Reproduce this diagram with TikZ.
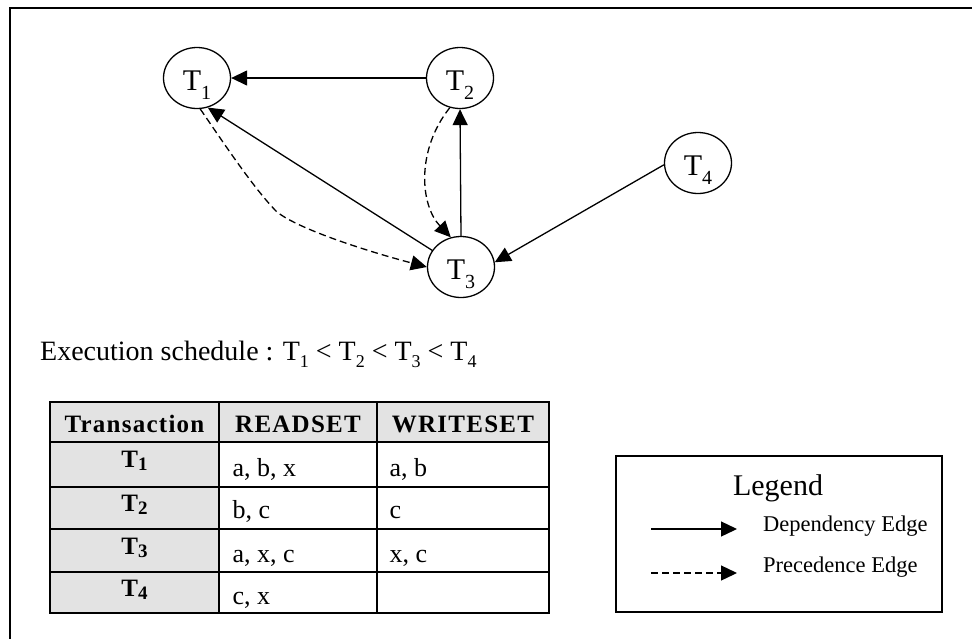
\documentclass[tikz,border=0pt]{standalone}
\usepackage{fontspec}
\setmainfont{Liberation Serif}
\usetikzlibrary{shapes.geometric,arrows.meta}
\definecolor{cellgray}{HTML}{E3E3E3}
\newcommand\Tsub[3]{T\raisebox{-#3}{\fontsize{#2}{#2}\selectfont #1}}
\begin{document}
\begin{tikzpicture}[x=1pt,y=-1pt,
  tnode/.style={ellipse,draw,line width=1.3pt,minimum width=67pt,minimum height=61pt,
    inner sep=0pt,text height=24pt,text depth=0pt,font=\fontsize{30}{32}\selectfont},
  dep/.style={line width=1.3pt,-{Triangle[length=16pt,width=15pt]}},
  prec/.style={dep,dash pattern=on 7pt off 4pt},
  hdr/.style={anchor=base,font=\fontsize{25}{27}\selectfont\bfseries\addfontfeature{LetterSpace=5}},
  rowlab/.style={anchor=base,font=\fontsize{25}{27}\selectfont\bfseries},
  cell/.style={anchor=base west,font=\fontsize{26}{28}\selectfont},
  grid/.style={line width=1.8pt}]
\useasboundingbox (0,0) rectangle (972,638);
% outer frame
\draw[line width=2.2pt] (10,640) -- (10,7.7) -- (974,7.7);

% graph nodes
\node[tnode] (t1) at (197,78) {\Tsub{1}{20pt}{0.3em}};
\node[tnode] (t2) at (460,78) {\Tsub{2}{20pt}{0.3em}};
\node[tnode] (t3) at (461,267) {\Tsub{3}{20pt}{0.3em}};
\node[tnode] (t4) at (698,163) {\Tsub{4}{20pt}{0.3em}};

% dependency edges
\draw[dep] (t2.west) -- (t1.east);
\draw[dep] (t3.150) -- (t1.-70);
\draw[dep] (t3.north) -- (t2.south);
\draw[dep] (t4.183) -- (t3.8);

% precedence edges
\coordinate (bend) at (277,212);
\draw[prec] (t1.-84) .. controls (225,145) and (255,190) .. (bend)
  .. controls (300,230) and (370,252) .. (t3.west);
\draw[prec] (t2.-109) .. controls (416,150) and (420,205) .. (t3.109);

% schedule
\node[anchor=base west,inner sep=0pt,font=\fontsize{28}{30}\selectfont] (sched) at (40,360)
  {Execution schedule : \Tsub{1}{18pt}{0.25em} < \Tsub{2}{18pt}{0.25em} < \Tsub{3}{18pt}{0.25em} < \Tsub{4}{18pt}{0.25em}};

% table
\fill[cellgray] (50,402) rectangle (549,442);
\fill[cellgray] (50,442) rectangle (219,613);
\draw[grid] (50,402) rectangle (549,613);
\draw[grid] (219,402) -- (219,613);
\draw[grid] (377,402) -- (377,613);
\foreach \yy in {442,487,529,572} \draw[grid] (50,\yy) -- (549,\yy);

\node[hdr] (h1) at (134.5,432) {Transaction};
\node[hdr] (h2) at (298,432) {READSET};
\node[hdr] (h3) at (463,432) {WRITESET};

\node[rowlab] (r1) at (134.5,467) {\Tsub{1}{19pt}{0.12em}};
\node[rowlab] (r2) at (134.5,511) {\Tsub{2}{19pt}{0.12em}};
\node[rowlab] (r3) at (134.5,554) {\Tsub{3}{19pt}{0.12em}};
\node[rowlab] (r4) at (134.5,596) {\Tsub{4}{19pt}{0.12em}};

\node[cell] (c12) at (229,476) {a, b, x};
\node[cell] (c13) at (386,476) {a, b};
\node[cell] (c22) at (229,518) {b, c};
\node[cell] (c23) at (386,518) {c};
\node[cell] (c32) at (229,562) {a, x, c};
\node[cell] (c33) at (386,562) {x, c};
\node[cell] (c42) at (229,604) {c, x};

% legend
\draw[line width=1.5pt] (616,456) rectangle (942,612);
\node[anchor=base,font=\fontsize{30}{32}\selectfont] (leg) at (778,495) {Legend};
\coordinate (l1a) at (651,529);
\coordinate (l1b) at (737,529);
\coordinate (l2a) at (651,573);
\coordinate (l2b) at (737,573);
\draw[dep] (l1a) -- (l1b);
\draw[prec] (l2a) -- (l2b);
\node[anchor=base west,inner sep=0pt,font=\fontsize{22.5}{24}\selectfont] (ld) at (763,531) {Dependency Edge};
\node[anchor=base west,inner sep=0pt,font=\fontsize{22.5}{24}\selectfont] (lp) at (763,572) {Precedence Edge};
\end{tikzpicture}
\end{document}
